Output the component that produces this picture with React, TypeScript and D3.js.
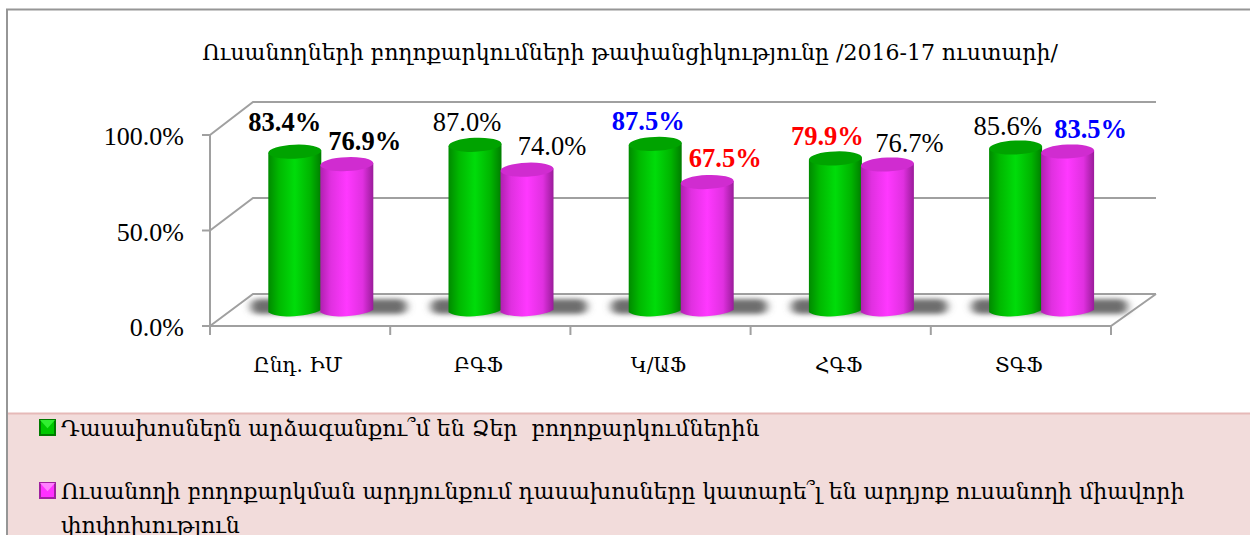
import React from "react";
import * as d3 from "d3";

const categories = ["Ընդ. ԻՄ", "ԲԳՖ", "Կ/ԱՖ", "ՀԳՖ", "ՏԳՖ"];
const seriesTeachers = [83.4, 87.0, 87.5, 79.9, 85.6];
const seriesStudents = [76.9, 74.0, 67.5, 76.7, 83.5];
const yTicks = [0, 50, 100];
const title = "Ուսանողների բողոքարկումների թափանցիկությունը /2016-17 ուստարի/";
const legendOne = "Դասախոսներն արձագանքու՞մ են Ձեր  բողոքարկումներին";
const legendTwoA = "Ուսանողի բողոքարկման արդյունքում դասախոսները կատարե՞լ են արդյոք ուսանողի միավորի";
const legendTwoB = "փոփոխություն";

// label emphasis as in the source
const teacherStyle = [["#000", 700], ["#000", 400], ["#0000ff", 700], ["#ff0000", 700], ["#000", 400]] as const;
const studentStyle = [["#000", 700], ["#000", 400], ["#ff0000", 700], ["#000", 400], ["#0000ff", 700]] as const;

// manual placement nudges of the data labels
const teacherNudge = [[-10, -21], [-8, -14], [-7, -14], [-8, -13], [-8, -13]];
const studentNudge = [[18, -14], [25, -15], [18, -15], [22, -13], [23, -14]];

const FONT = '"Liberation Serif", "DejaVu Serif", serif';
const ARM = '"DejaVu Serif", serif';
const GRID = "#a0a0a0";

const x = d3.scaleBand<number>().domain(d3.range(categories.length)).range([210, 1111]);
const yFront = d3.scaleLinear().domain([0, 100]).range([326, 135]);
const yBack = d3.scaleLinear().domain([0, 100]).range([294, 102]);
const yBar = d3.scaleLinear().domain([0, 100]).range([311, 120]);
const fmt = (v: number) => v.toFixed(1) + "%";

const BAR_W = 53;
const RY = 7;
const TILT = -2.5;

function Cylinder({ cx, v, grad, top }: { cx: number; v: number; grad: string; top: string }) {
  const yT = yBar(v);
  const yB = yBar(0);
  const r = BAR_W / 2;
  const dy = Math.tan((TILT * Math.PI) / 180) * r;
  const body = d3.path();
  body.moveTo(cx - r, yT - dy);
  body.lineTo(cx - r, yB - dy);
  body.bezierCurveTo(cx - r * 0.6, yB - dy + RY, cx + r * 0.6, yB + dy + RY, cx + r, yB + dy);
  body.lineTo(cx + r, yT + dy);
  body.closePath();
  return (
    <g>
      <path d={body.toString()} fill={`url(#${grad})`} />
      <ellipse cx={cx} cy={yT} rx={r} ry={RY} fill={top} transform={`rotate(${TILT} ${cx} ${yT})`} />
    </g>
  );
}

function Marker({ px, py, light, mid, dark }: { px: number; py: number; light: string; mid: string; dark: string }) {
  const s = 17;
  return (
    <g>
      <rect x={px} y={py} width={s} height={s} fill={dark} />
      <rect x={px + 2} y={py + 2} width={s - 4} height={s - 4} fill={mid} />
      <path d={`M${px + 1},${py + 1}H${px + s - 1}L${px + s / 2},${py + s * 0.55}Z`} fill={light} />
    </g>
  );
}

export default function App() {
  const bw = x.bandwidth();
  const greenCx = (i: number) => (x(i) as number) + bw * 0.4706 - 0 - 0.0 + 0 - 0;
  const pinkCx = (i: number) => greenCx(i) + 52;
  return (
    <svg width={1250} height={535} style={{ position: "absolute", left: 0, top: 0, display: "block", background: "#fff" }}>
      <defs>
        <linearGradient id="gGreen" x1="0" x2="1" y1="0" y2="0">
          <stop offset="0" stopColor="#008a00" />
          <stop offset="0.2" stopColor="#00b800" />
          <stop offset="0.5" stopColor="#00dc0a" />
          <stop offset="0.8" stopColor="#00b400" />
          <stop offset="1" stopColor="#007d00" />
        </linearGradient>
        <linearGradient id="gPink" x1="0" x2="1" y1="0" y2="0">
          <stop offset="0" stopColor="#b020b0" />
          <stop offset="0.2" stopColor="#e030e0" />
          <stop offset="0.5" stopColor="#ff38ff" />
          <stop offset="0.8" stopColor="#e030e0" />
          <stop offset="1" stopColor="#9a1c9a" />
        </linearGradient>
        <filter id="blur" x="-20%" y="-100%" width="140%" height="300%">
          <feGaussianBlur stdDeviation="4 2.5" />
        </filter>
      </defs>

      {/* frame */}
      <path d="M7,535V9.5H1250" fill="none" stroke="#969696" strokeWidth={2} />

      {/* walls and floor */}
      <g stroke={GRID} strokeWidth={2} fill="none">
        {yTicks.map((t) => (
          <path key={t} d={`M${x.range()[0]},${yFront(t)}L253,${yBack(t)}H1156`} />
        ))}
        <path d={`M1156,${yBack(0)}L1111,${yFront(0)}H210`} />
        <path d={`M210,${yFront(100)}V335`} />
        {yTicks.map((t) => (
          <path key={t} d={`M202,${yFront(t)}H210`} />
        ))}
        {d3.range(categories.length).map((i) => (
          <path key={i} d={`M${(x(i) as number) + bw},326V335`} />
        ))}
      </g>

      {/* floor shadows */}
      {categories.map((_, i) => (
        <rect key={i} x={greenCx(i) - 44} y={299} width={156} height={15} rx={7} fill="#6e6e6e" filter="url(#blur)" />
      ))}

      {/* cylinders */}
      {categories.map((_, i) => (
        <g key={i}>
          <Cylinder cx={greenCx(i)} v={seriesTeachers[i]} grad="gGreen" top="#00a300" />
          <Cylinder cx={pinkCx(i)} v={seriesStudents[i]} grad="gPink" top="#d02cd0" />
        </g>
      ))}

      {/* axis labels */}
      <g fontFamily={FONT} fontSize={26} fill="#000">
        {yTicks.map((t) => (
          <text key={t} x={184} y={yFront(t) + 10} textAnchor="end">{fmt(t)}</text>
        ))}
      </g>
      <g fontFamily={ARM} fontSize={20} fill="#000" textAnchor="middle">
        {categories.map((c, i) => (
          <text key={c} x={(x(i) as number) + bw / 2 - 2} y={372}>{c}</text>
        ))}
      </g>

      {/* data labels */}
      <g fontFamily={FONT} fontSize={26.5} textAnchor="middle">
        {categories.map((_, i) => (
          <g key={i}>
            <text x={greenCx(i) + teacherNudge[i][0]} y={yBar(seriesTeachers[i]) + teacherNudge[i][1]}
              fill={teacherStyle[i][0]} fontWeight={teacherStyle[i][1]}>{fmt(seriesTeachers[i])}</text>
            <text x={pinkCx(i) + studentNudge[i][0]} y={yBar(seriesStudents[i]) + studentNudge[i][1]}
              fill={studentStyle[i][0]} fontWeight={studentStyle[i][1]}>{fmt(seriesStudents[i])}</text>
          </g>
        ))}
      </g>

      {/* title */}
      <text x={630} y={60} textAnchor="middle" fontFamily={ARM} fontSize={22} fill="#000">{title}</text>

      {/* legend band */}
      <rect x={8} y={413} width={1242} height={122} fill="#f2dcdb" />
      <path d="M8,413.5H1250" stroke="#e6b9b8" strokeWidth={2} />
      <Marker px={39} py={419} light="#30ee30" mid="#00c800" dark="#007a00" />
      <Marker px={39} py={482} light="#ff80ff" mid="#ff30ff" dark="#a020a0" />
      <g fontFamily={ARM} fontSize={22} fill="#000">
        <text x={61} y={436} xmlSpace="preserve">{legendOne}</text>
        <text x={61} y={499}>{legendTwoA}</text>
        <text x={61} y={533}>{legendTwoB}</text>
      </g>
    </svg>
  );
}
